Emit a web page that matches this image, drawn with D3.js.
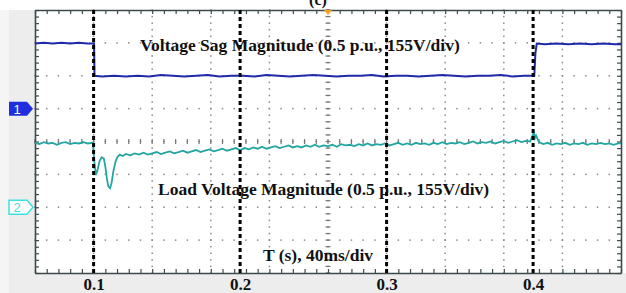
<!DOCTYPE html>
<html>
<head>
<meta charset="utf-8">
<script src="https://cdn.jsdelivr.net/npm/d3@7"></script>
<style>
  body { margin: 0; background: #fff; }
  svg { display: block; }
  .lbl { font-family: "Liberation Serif", "Times New Roman", serif; font-weight: bold; fill: #111; }
</style>
</head>
<body>
<svg width="626" height="293"></svg>
<script>
// time (s) and magnitude (p.u.)
const ch1Time = [0.060, 0.066, 0.072, 0.078, 0.084, 0.090, 0.096, 0.1003, 0.1006, 0.106, 0.114, 0.122, 0.130, 0.138, 0.146, 0.154, 0.162, 0.170, 0.178, 0.186, 0.194, 0.202, 0.210, 0.218, 0.226, 0.234, 0.242, 0.250, 0.258, 0.266, 0.274, 0.282, 0.290, 0.298, 0.306, 0.314, 0.322, 0.330, 0.338, 0.346, 0.354, 0.362, 0.370, 0.378, 0.386, 0.394, 0.4008, 0.4016, 0.4025, 0.408, 0.416, 0.424, 0.432, 0.440, 0.448, 0.456, 0.460];
const ch1Values = [0.99, 1.00, 0.99, 1.00, 0.99, 1.00, 0.99, 0.99, 0.50, 0.49, 0.50, 0.49, 0.50, 0.49, 0.51, 0.50, 0.49, 0.50, 0.51, 0.49, 0.50, 0.50, 0.49, 0.51, 0.50, 0.49, 0.50, 0.51, 0.50, 0.49, 0.50, 0.50, 0.51, 0.49, 0.50, 0.50, 0.49, 0.50, 0.51, 0.50, 0.49, 0.50, 0.50, 0.51, 0.49, 0.50, 0.50, 0.85, 0.99, 0.98, 0.99, 0.98, 0.99, 0.98, 0.99, 0.98, 0.98];

const ch2Time = [0.060, 0.063, 0.066, 0.069, 0.072, 0.075, 0.078, 0.081, 0.084, 0.087, 0.090, 0.093, 0.096, 0.0995,
  0.1005, 0.1015, 0.1025, 0.104, 0.1055, 0.107, 0.108, 0.109, 0.110, 0.1112, 0.1122, 0.1135, 0.115, 0.1165, 0.118, 0.120, 0.122,
  0.125, 0.128, 0.131, 0.134, 0.137, 0.140, 0.143, 0.146, 0.149, 0.152, 0.155, 0.158, 0.161, 0.164, 0.167, 0.170, 0.173, 0.176, 0.179, 0.182, 0.185, 0.188, 0.191, 0.194, 0.197,
  0.200, 0.203, 0.206, 0.209, 0.212, 0.215, 0.218, 0.221, 0.224, 0.227, 0.230, 0.233, 0.236, 0.239, 0.242, 0.245, 0.248, 0.251, 0.254, 0.257,
  0.260, 0.263, 0.266, 0.269, 0.272, 0.275, 0.278, 0.281, 0.284, 0.287, 0.290, 0.293, 0.296, 0.299, 0.302, 0.305, 0.308, 0.311, 0.314, 0.317,
  0.320, 0.323, 0.326, 0.329, 0.332, 0.335, 0.338, 0.341, 0.344, 0.347, 0.350, 0.353, 0.356, 0.359, 0.362, 0.365, 0.368, 0.371, 0.374, 0.377,
  0.380, 0.383, 0.386, 0.389, 0.392, 0.395, 0.398, 0.4005, 0.4012, 0.402, 0.404, 0.407, 0.410, 0.413, 0.416, 0.419, 0.422, 0.425, 0.428, 0.431,
  0.434, 0.437, 0.440, 0.443, 0.446, 0.449, 0.452, 0.455, 0.458, 0.460];
const ch2Values = [0.98, 0.96, 0.99, 0.97, 0.98, 0.95, 0.98, 0.99, 0.96, 0.98, 0.97, 0.99, 0.97, 0.98,
  0.70, 0.49, 0.55, 0.70, 0.76, 0.74, 0.62, 0.45, 0.32, 0.29, 0.36, 0.55, 0.70, 0.77, 0.80, 0.78, 0.81,
  0.79, 0.82, 0.80, 0.83, 0.80, 0.82, 0.84, 0.81, 0.83, 0.85, 0.82, 0.84, 0.86, 0.83, 0.85, 0.87, 0.84, 0.86, 0.88, 0.85, 0.87, 0.89, 0.86, 0.88, 0.90,
  0.87, 0.90, 0.88, 0.91, 0.89, 0.92, 0.89, 0.91, 0.93, 0.90, 0.92, 0.94, 0.91, 0.93, 0.91, 0.94, 0.92, 0.95, 0.92, 0.94,
  0.93, 0.95, 0.92, 0.96, 0.94, 0.95, 0.93, 0.96, 0.94, 0.97, 0.94, 0.96, 0.95, 0.97, 0.94, 0.96, 0.98, 0.95, 0.97, 0.95,
  0.98, 0.96, 0.97, 0.95, 0.98, 0.96, 0.99, 0.96, 0.98, 0.97, 0.99, 0.96, 0.98, 1.00, 0.97, 0.99, 0.98, 1.00, 0.97, 0.99,
  1.01, 0.98, 1.00, 1.02, 0.99, 1.01, 1.00, 1.14, 1.05, 1.09, 0.99, 0.96, 0.98, 0.95, 0.97, 0.96, 0.98, 0.95, 0.97, 0.96,
  0.98, 0.95, 0.97, 0.96, 0.98, 0.96, 0.97, 0.95, 0.97, 0.97];

const xTicks = [0.1, 0.2, 0.3, 0.4];
const eventTimes = [0.1, 0.2, 0.3, 0.4];
const labels = {
  ch1: 'Voltage Sag Magnitude (0.5 p.u., 155V/div)',
  ch2: 'Load Voltage Magnitude (0.5 p.u., 155V/div)',
  time: 'T (s), 40ms/div'
};

const svg = d3.select('svg');
const width = +svg.attr('width'), height = +svg.attr('height');
const margin = {left: 35, right: 5, top: 10, bottom: 20};
const inner = {width: width - margin.left - margin.right, height: height - margin.top - margin.bottom};

// scope screen: 10 x 40ms horizontally, 8 divisions vertically
const xScale = d3.scaleLinear().domain([0.06, 0.46]).range([margin.left, margin.left + inner.width]);
const yScale = d3.scaleLinear().domain([-4, 4]).range([margin.top + inner.height, margin.top]);
const perDiv = 0.5; // p.u. per division
const ch1Offset = 1, ch2Offset = -2;

// panel backgrounds
svg.append('rect').attr('width', width).attr('height', height).attr('fill', '#fff');
svg.append('rect').attr('x', 9).attr('y', margin.top).attr('width', margin.left - 9).attr('height', height).attr('fill', '#ededed');
svg.append('rect').attr('x', 0).attr('y', margin.top + inner.height).attr('width', width).attr('height', margin.bottom).attr('fill', '#ededed');
svg.append('rect').attr('x', 0).attr('y', margin.top).attr('width', 9).attr('height', height).attr('fill', '#f5f5f5');

svg.append('text').attr('class', 'lbl').attr('x', 318).attr('y', 5)
  .attr('text-anchor', 'middle').style('font-size', '16px').text('(c)');

const g = svg.append('g');
g.append('rect')
  .attr('x', margin.left).attr('y', margin.top)
  .attr('width', inner.width).attr('height', inner.height)
  .attr('fill', '#fff');

// dotted grid
const xMajor = d3.range(1, 10).map(i => 0.06 + i * 0.04);
const yMajor = d3.range(-3, 4);
const xMinor = d3.range(0, 51).map(i => 0.06 + i * 0.008);
const yMinor = d3.range(0, 41).map(i => -4 + i * 0.2);
const dots = [];
xMajor.forEach(t => yMinor.forEach(d => dots.push([t, d])));
yMajor.forEach(d => xMinor.forEach(t => dots.push([t, d])));
g.selectAll('rect.dot').data(dots).enter().append('rect')
  .attr('class', 'dot')
  .attr('x', d => xScale(d[0]) - 0.75).attr('y', d => yScale(d[1]) - 0.75)
  .attr('width', 1.5).attr('height', 1.5)
  .attr('fill', '#8a8a8a');

// centre axes with minor ticks
const cx = xScale(0.26), cy = yScale(0);
g.selectAll('line.cyt').data(yMinor).enter().append('line')
  .attr('x1', cx - 2.5).attr('x2', cx + 2.5)
  .attr('y1', d => yScale(d)).attr('y2', d => yScale(d))
  .attr('stroke', '#777').attr('stroke-width', 1.2);
g.selectAll('line.cxt').data(xMinor).enter().append('line')
  .attr('y1', cy - 2.5).attr('y2', cy + 2.5)
  .attr('x1', d => xScale(d)).attr('x2', d => xScale(d))
  .attr('stroke', '#777').attr('stroke-width', 1.2);

// border ticks via axes
const frame = '#3d4a4a';
const styleAxis = sel => {
  sel.selectAll('text').remove();
  sel.select('.domain').attr('stroke', frame).attr('stroke-width', 1.6);
  sel.selectAll('.tick line').attr('stroke', frame).attr('stroke-width', 1.2);
};
g.append('g').attr('transform', `translate(0,${yScale(-4)})`)
  .call(d3.axisTop(xScale).tickValues(xMinor).tickSize(4).tickSizeOuter(0)).call(styleAxis);
g.append('g').attr('transform', `translate(0,${yScale(4)})`)
  .call(d3.axisBottom(xScale).tickValues(xMinor).tickSize(4).tickSizeOuter(0)).call(styleAxis);
g.append('g').attr('transform', `translate(${xScale(0.06)},0)`)
  .call(d3.axisRight(yScale).tickValues(yMinor).tickSize(4).tickSizeOuter(0)).call(styleAxis);
g.append('g').attr('transform', `translate(${xScale(0.46)},0)`)
  .call(d3.axisLeft(yScale).tickValues(yMinor).tickSize(4).tickSizeOuter(0)).call(styleAxis);

// trigger marker
g.append('path')
  .attr('d', `M${cx - 4},${margin.top} L${cx + 4},${margin.top} L${cx},${margin.top + 5} Z`)
  .attr('fill', '#f5a020');

// traces
const ch1 = ch1Time.map((t, i) => [t, ch1Values[i]]);
const ch2 = ch2Time.map((t, i) => [t, ch2Values[i]]);
const line = off => d3.line().x(d => xScale(d[0])).y(d => yScale(off + d[1] / perDiv));

g.append('path').datum(ch2)
  .attr('d', line(ch2Offset))
  .attr('fill', 'none').attr('stroke', '#23a6a2').attr('stroke-width', 1.8);
g.append('path').datum(ch1)
  .attr('d', line(ch1Offset))
  .attr('fill', 'none').attr('stroke', '#1e2aa8').attr('stroke-width', 2);

// event lines
g.selectAll('line.ev').data(eventTimes).enter().append('line')
  .attr('class', 'ev')
  .attr('x1', d => xScale(d)).attr('x2', d => xScale(d))
  .attr('y1', margin.top).attr('y2', margin.top + inner.height)
  .attr('stroke', '#000').attr('stroke-width', 3).attr('stroke-dasharray', '4,3');

// channel ground markers
const tag = (y) => `M9,${y - 7} L27,${y - 7} L33,${y} L27,${y + 7} L9,${y + 7} Z`;
svg.append('path').attr('d', tag(yScale(ch1Offset))).attr('fill', '#1f2fe0');
svg.append('text').attr('x', 17).attr('y', yScale(ch1Offset) + 5)
  .attr('text-anchor', 'middle').attr('fill', '#fff')
  .style('font-family', 'Liberation Sans, Arial, sans-serif').style('font-size', '13px').text('1');
svg.append('path').attr('d', tag(yScale(ch2Offset))).attr('fill', '#fff')
  .attr('stroke', '#3ee0e0').attr('stroke-width', 1.5);
svg.append('text').attr('x', 17).attr('y', yScale(ch2Offset) + 5)
  .attr('text-anchor', 'middle').attr('fill', '#3ee0e0')
  .style('font-family', 'Liberation Sans, Arial, sans-serif').style('font-size', '13px').text('2');

// x tick labels
const xAxis = d3.axisBottom(xScale).tickValues(xTicks).tickSize(0).tickFormat(d3.format('.1f'));
const xg = g.append('g').attr('transform', `translate(0,${height - 3})`).call(xAxis);
xg.select('.domain').remove();
xg.selectAll('text').attr('class', 'lbl').attr('fill', '#111')
  .attr('y', 0).attr('dy', 0)
  .style('font-size', '17px');

// annotations
g.append('text').attr('class', 'lbl').attr('x', 140).attr('y', 51).style('font-size', '17.5px').text(labels.ch1);
g.append('text').attr('class', 'lbl').attr('x', 158).attr('y', 195).style('font-size', '17.5px').text(labels.ch2);
g.append('text').attr('class', 'lbl').attr('x', 263).attr('y', 261).style('font-size', '17.5px').text(labels.time);
</script>
</body>
</html>
